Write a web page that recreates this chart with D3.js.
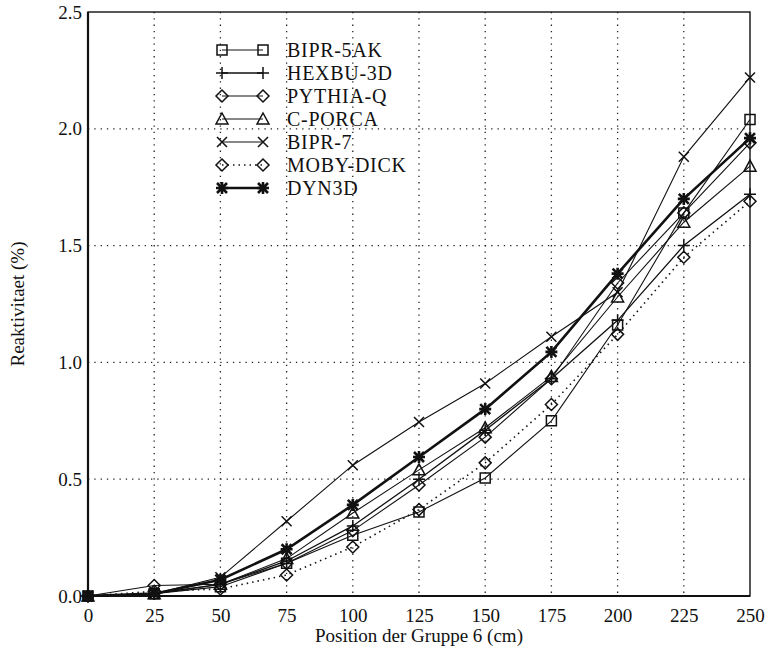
<!DOCTYPE html>
<html>
<head>
<meta charset="utf-8">
<script src="https://cdn.jsdelivr.net/npm/d3@7"></script>
<style>
  body { margin: 0; background: #fff; }
  svg text { font-family: "Liberation Serif", "DejaVu Serif", serif; fill: #111; }
</style>
</head>
<body>
<div class="chart"></div>
<script>
// positions of group 6 (cm)
const positions = [0, 25, 50, 75, 100, 125, 150, 175, 200, 225, 250]

// reactivity (%)
const bipr5ak  = [0, 0.01, 0.04, 0.14, 0.26, 0.36, 0.505, 0.75, 1.16, 1.64, 2.04]
const hexbu3d  = [0, 0.01, 0.05, 0.15, 0.30, 0.50, 0.71, 0.93, 1.18, 1.50, 1.72]
const pythiaQ  = [0, 0.045, 0.05, 0.14, 0.28, 0.475, 0.68, 0.93, 1.34, 1.64, 1.94]
const cPorca   = [0, 0.01, 0.05, 0.16, 0.355, 0.54, 0.72, 0.94, 1.28, 1.60, 1.84]
const bipr7    = [0, 0.01, 0.08, 0.32, 0.56, 0.745, 0.91, 1.11, 1.30, 1.88, 2.22]
const mobyDick = [0, 0.02, 0.03, 0.09, 0.21, 0.37, 0.57, 0.82, 1.12, 1.45, 1.69]
const dyn3d    = [0, 0.01, 0.07, 0.20, 0.39, 0.595, 0.80, 1.045, 1.38, 1.70, 1.96]

const seriesNames = ['BIPR-5AK', 'HEXBU-3D', 'PYTHIA-Q', 'C-PORCA', 'BIPR-7', 'MOBY-DICK', 'DYN3D']
const seriesValues = [bipr5ak, hexbu3d, pythiaQ, cPorca, bipr7, mobyDick, dyn3d]

const xTicks = [0, 25, 50, 75, 100, 125, 150, 175, 200, 225, 250]
const yTicks = [0, 0.5, 1.0, 1.5, 2.0, 2.5]

// drawing style for each series
const styles = [
    {marker: 'square',   width: 1.1, dash: null},
    {marker: 'plus',     width: 1.3, dash: null},
    {marker: 'diamond',  width: 1.1, dash: null},
    {marker: 'triangle', width: 1.1, dash: null},
    {marker: 'cross',    width: 1.1, dash: null},
    {marker: 'diamond',  width: 1.6, dash: '1.5,4'},
    {marker: 'asterisk', width: 2.6, dash: null}
]

const width = 769, height = 654
const plot = {left: 88, right: 750, top: 12, bottom: 596}

const svg = d3.select('.chart').append('svg')
    .attr('width', width)
    .attr('height', height)

const x = d3.scaleLinear().domain([0, 250]).range([plot.left, plot.right])
const y = d3.scaleLinear().domain([0, 2.5]).range([plot.bottom, plot.top])

// dotted grid
const grid = svg.append('g')
grid.selectAll('.vgrid')
    .data(xTicks.slice(1, -1))
    .join('line')
    .attr('x1', d => x(d)).attr('x2', d => x(d))
    .attr('y1', plot.top).attr('y2', plot.bottom)
    .attr('stroke', '#222').attr('stroke-width', 1.3)
    .attr('stroke-dasharray', '1.3,5')
grid.selectAll('.hgrid')
    .data(yTicks.slice(1, -1))
    .join('line')
    .attr('x1', plot.left).attr('x2', plot.right)
    .attr('y1', d => y(d)).attr('y2', d => y(d))
    .attr('stroke', '#222').attr('stroke-width', 1.3)
    .attr('stroke-dasharray', '1.3,5')

// axes (labels only, frame drawn separately)
const xAxis = svg.append('g')
    .attr('transform', 'translate(0,' + plot.bottom + ')')
    .call(d3.axisBottom(x).tickValues(xTicks).tickSize(0).tickPadding(13))
xAxis.select('.domain').remove()
xAxis.selectAll('text').attr('font-size', 19).attr('font-family', '"Liberation Serif", serif').attr('fill', '#111')

const yAxis = svg.append('g')
    .attr('transform', 'translate(' + plot.left + ',0)')
    .call(d3.axisLeft(y).tickValues(yTicks).tickSize(0).tickPadding(6).tickFormat(d3.format('.1f')))
yAxis.select('.domain').remove()
yAxis.selectAll('text').attr('font-size', 19).attr('font-family', '"Liberation Serif", serif').attr('fill', '#111')

// frame
svg.append('rect')
    .attr('x', plot.left).attr('y', plot.top)
    .attr('width', plot.right - plot.left).attr('height', plot.bottom - plot.top)
    .attr('fill', 'none').attr('stroke', '#111').attr('stroke-width', 1.4)
svg.append('line')
    .attr('x1', plot.left).attr('x2', plot.left)
    .attr('y1', plot.top).attr('y2', plot.bottom)
    .attr('stroke', '#111').attr('stroke-width', 2.2)
svg.append('line')
    .attr('x1', plot.left).attr('x2', plot.right)
    .attr('y1', plot.bottom).attr('y2', plot.bottom)
    .attr('stroke', '#111').attr('stroke-width', 2)

// axis titles
svg.append('text')
    .attr('x', (plot.left + plot.right) / 2)
    .attr('y', 642)
    .attr('text-anchor', 'middle')
    .attr('font-size', 19)
    .text('Position der Gruppe 6 (cm)')
svg.append('text')
    .attr('transform', 'translate(24,' + (plot.top + plot.bottom) / 2 + ') rotate(-90)')
    .attr('text-anchor', 'middle')
    .attr('font-size', 19)
    .text('Reaktivitaet (%)')

function markerPath(type) {
    const s = 5
    switch (type) {
        case 'square':   return `M${-s},${-s}H${s}V${s}H${-s}Z`
        case 'plus':     return `M${-s - 1},0H${s + 1}M0,${-s - 1}V${s + 1}`
        case 'diamond':  return `M0,${-s - 1}L${s + 1},0L0,${s + 1}L${-s - 1},0Z`
        case 'triangle': return `M0,${-s - 1}L${s + 1},${s}L${-s - 1},${s}Z`
        case 'cross':    return `M${-s},${-s}L${s},${s}M${s},${-s}L${-s},${s}`
        case 'asterisk': return `M${-s},${-s}L${s},${s}M${s},${-s}L${-s},${s}M${-s - 1},0H${s + 1}M0,${-s - 1}V${s + 1}`
    }
}

const line = d3.line()
    .x(d => x(d[0]))
    .y(d => y(d[1]))

const series = svg.append('g')
seriesValues.forEach((vals, i) => {
    const st = styles[i]
    const pts = positions.map((p, j) => [p, vals[j]])
    series.append('path')
        .datum(pts)
        .attr('d', line)
        .attr('fill', 'none')
        .attr('stroke', '#111')
        .attr('stroke-width', st.width)
        .attr('stroke-dasharray', st.dash)
    series.selectAll('.m' + i)
        .data(pts)
        .join('path')
        .attr('transform', d => 'translate(' + x(d[0]) + ',' + y(d[1]) + ')')
        .attr('d', markerPath(st.marker))
        .attr('fill', 'none')
        .attr('stroke', '#111')
        .attr('stroke-width', st.marker == 'asterisk' ? 2.6 : 1.5)
})

// legend (no box, grid shows through)
const legend = svg.append('g')
seriesNames.forEach((name, i) => {
    const st = styles[i]
    const ly = 50 + i * 23
    legend.append('line')
        .attr('x1', 222).attr('x2', 263)
        .attr('y1', ly).attr('y2', ly)
        .attr('stroke', '#111')
        .attr('stroke-width', st.width)
        .attr('stroke-dasharray', st.dash)
    ;[222, 263].forEach(mx => {
        legend.append('path')
            .attr('transform', 'translate(' + mx + ',' + ly + ')')
            .attr('d', markerPath(st.marker))
            .attr('fill', 'none')
            .attr('stroke', '#111')
            .attr('stroke-width', st.marker == 'asterisk' ? 2.6 : 1.5)
    })
    legend.append('text')
        .attr('x', 287).attr('y', ly + 7)
        .attr('font-size', 20)
        .attr('letter-spacing', 0.7)
        .text(name)
})
</script>
</body>
</html>
